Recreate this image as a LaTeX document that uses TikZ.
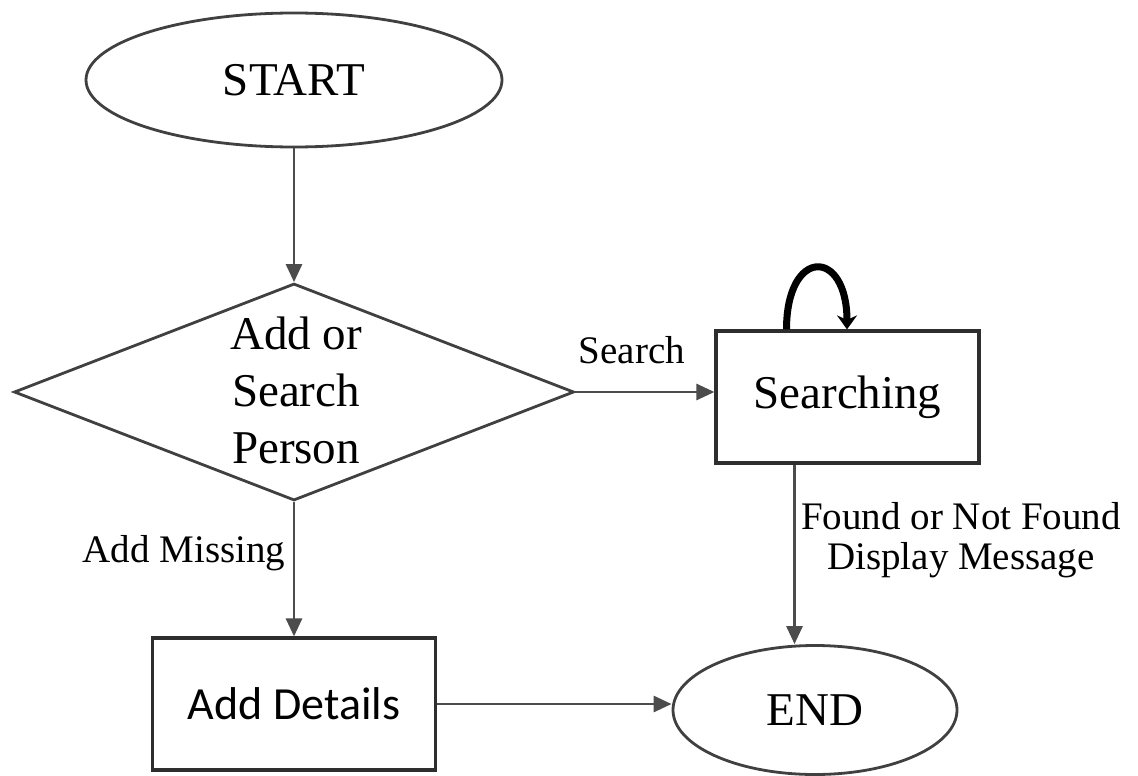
\documentclass[tikz,border=0pt]{standalone}
\usepackage{fontspec}
\setmainfont{Liberation Serif}
\newfontfamily\carlito{Carlito}
\usetikzlibrary{shapes.geometric,arrows.meta}
\begin{document}
\begin{tikzpicture}[x=1pt,y=-1pt,
  edge/.style={draw=black!70, line width=2.8pt},
  flow/.style={edge, -{Triangle[length=18pt,width=16pt]}},
  term/.style={ellipse, draw=black!75, line width=2.8pt, inner sep=0pt},
  proc/.style={rectangle, draw=black!82, line width=3.2pt, inner sep=0pt},
  decision/.style={diamond, draw=black!75, line width=2.8pt, inner sep=0pt},
  big/.style={font=\fontsize{47}{57}\selectfont},
  small/.style={font=\fontsize{39}{40}\selectfont},
]
\useasboundingbox (0,0) rectangle (1138,776);

% shapes
\node[term, minimum width=416pt, minimum height=134pt, big] (start) at (294,80) {START};
\node[decision, minimum width=560pt, minimum height=217pt] (dec) at (294,392) {};
\node[big, align=center] (dectext) at (296,390) {Add or\\Search\\Person};
\node[proc, minimum width=263pt, minimum height=132pt, big] (srch) at (847.5,397) {Searching};
\node[proc, minimum width=283pt, minimum height=132pt, font=\carlito\fontsize{46}{50}\selectfont] (add) at (294,704) {Add Details};
\node[term, minimum width=284pt, minimum height=129pt, big] (end) at (815,710) {END};

% connectors
\draw[flow] (start) -- (dec);
\draw[flow] (dec.east) -- (dec.east -| srch.west);
\draw[flow] (dec) -- (add);
\draw[flow] (add.east) -- (add.east -| end.west);
\draw[flow] ([xshift=-53pt]srch.south) -- ([xshift=-20.5pt]end.north);
\draw[line width=7pt, -{Stealth[length=14pt,width=20pt]}]
  ([xshift=-61pt]srch.north) .. controls +(0,-82) and +(0,-82) .. ([xshift=-0.5pt]srch.north);

% labels
\node[small] (lsearch) at (632,350) {Search};
\node[small] (lmiss) at (184,553) {Add Missing};
\node[small, align=center, inner sep=0pt] (lfound) at (961,540) {Found or Not Found\\Display Message};
\end{tikzpicture}
\end{document}
